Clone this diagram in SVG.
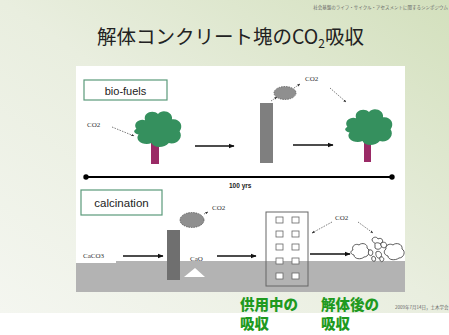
<svg xmlns="http://www.w3.org/2000/svg" width="449" height="335" viewBox="0 0 449 335">
  <defs>
    <linearGradient id="bg" x1="0" y1="1" x2="1" y2="0">
      <stop offset="0" stop-color="#f4f6f0"/>
      <stop offset="0.5" stop-color="#e9eedf"/>
      <stop offset="1" stop-color="#d3e0bd"/>
    </linearGradient>
    <marker id="arr" viewBox="0 0 10 10" refX="9" refY="5" markerWidth="6" markerHeight="6" orient="auto" markerUnits="userSpaceOnUse">
      <path d="M0,1 L10,5 L0,9 z" fill="#111"/>
    </marker>
    <marker id="arrs" viewBox="0 0 10 10" refX="9" refY="5" markerWidth="3" markerHeight="3" orient="auto" markerUnits="userSpaceOnUse">
      <path d="M0,1 L10,5 L0,9 z" fill="#333"/>
    </marker>
    <marker id="dot" viewBox="0 0 10 10" refX="5" refY="5" markerWidth="6" markerHeight="6" markerUnits="userSpaceOnUse">
      <circle cx="5" cy="5" r="4.5" fill="#000"/>
    </marker>
    <g id="treeShape">
      <path d="M-20,0 C-24,-6 -16,-10 -12,-8 C-14,-16 -4,-18 0,-14 C4,-19 14,-16 13,-9 C20,-10 24,-3 20,2 C24,8 17,15 10,13 C6,18 -4,18 -6,13 C-14,16 -22,10 -18,5 C-23,4 -23,1 -20,0 z"/>
    </g>
  </defs>
  <style>
    .lbl { font-family: "Liberation Sans", Arial, sans-serif; fill: #222; }
    .small { font-family: "Liberation Serif", "Times New Roman", serif; font-size: 7px; fill: #333; }
    .box { fill: #ffffff; stroke: #5a9a7a; stroke-width: 1.2; }
    .flow { stroke: #111; stroke-width: 1.5; fill: none; marker-end: url(#arr); }
    .dash { stroke: #444; stroke-width: 0.7; stroke-dasharray: 1.5 1.2; fill: none; marker-end: url(#arrs); }
    .canopy { fill: #35905e; }
    .trunk { fill: #9a2a66; }
    .smoke { fill: #8f8f8f; stroke: #555; stroke-width: 0.8; stroke-dasharray: 1.5 1; }
    .green { font-family: "Noto Sans CJK JP", sans-serif; font-weight: 900; font-size: 14.5px; fill: #1f9a1f; }
    .win { fill: #ffffff; stroke: #666; stroke-width: 0.8; }
    .rubble { fill: #ffffff; stroke: #333; stroke-width: 0.8; }
  </style>

  <!-- slide background -->
  <rect x="0" y="0" width="449" height="313" fill="url(#bg)"/>
  <rect x="0" y="313" width="449" height="22" fill="#ffffff"/>

  <!-- header texts -->
  <text x="448" y="9" text-anchor="end" font-family="'Noto Sans CJK JP', sans-serif" font-size="4.5" fill="#666">社会基盤のライフ・サイクル・アセスメントに関するシンポジウム</text>
  <text x="97" y="44" font-family="'Noto Sans CJK JP', sans-serif" font-size="19.5" fill="#222">解体コンクリート塊のCO<tspan font-size="12" dy="4">2</tspan><tspan dy="-4">吸収</tspan></text>

  <!-- content panel -->
  <rect x="76" y="66" width="329" height="226" fill="#ffffff"/>
  <!-- ground -->
  <rect x="76" y="261" width="329" height="31" fill="#b3b3b3"/>
  <rect x="76" y="248" width="40" height="15" fill="#ffffff"/>

  <!-- bio-fuels row -->
  <g id="biofuels-label">
    <rect class="box" x="84" y="80" width="83" height="20"/>
    <text class="lbl" x="125.5" y="94.5" font-size="11" text-anchor="middle">bio-fuels</text>
  </g>
  <g id="tree-left">
    <rect class="trunk" x="151" y="142" width="8" height="22"/>
    <use href="#treeShape" class="canopy" transform="translate(158,129) scale(1.08)"/>
  </g>
  <g id="stack-top">
    <rect x="260" y="103" width="13" height="60" fill="#7f7f7f"/>
    <ellipse class="smoke" cx="285" cy="93" rx="11" ry="6.5"/>
  </g>
  <g id="tree-right">
    <rect class="trunk" x="364" y="141" width="7" height="21"/>
    <use href="#treeShape" class="canopy" transform="translate(369,127) scale(1.08)"/>
  </g>
  <g id="timeline">
    <line x1="86" y1="177" x2="392" y2="177" stroke="#000" stroke-width="2.2" marker-start="url(#dot)" marker-end="url(#dot)"/>
    <text x="229" y="188" font-family="'Liberation Sans', Arial, sans-serif" font-size="6.5" font-weight="bold" fill="#222">100 yrs</text>
  </g>

  <!-- calcination row -->
  <g id="calcination-label">
    <rect class="box" x="81" y="190" width="81" height="25"/>
    <text class="lbl" x="121.5" y="207" font-size="11.5" text-anchor="middle">calcination</text>
  </g>
  <g id="kiln">
    <rect x="167" y="230" width="13" height="50" fill="#6f6f6f"/>
    <ellipse class="smoke" cx="192" cy="220" rx="12" ry="7.5"/>
    <polygon points="195,268 184,277 205,277" fill="#ffffff"/>
  </g>
  <g id="building">
    <rect x="266" y="212" width="42" height="74" fill="none" stroke="#666" stroke-width="1"/>
    <rect class="win" x="276" y="217" width="7" height="6"/>
    <rect class="win" x="292" y="217" width="7" height="6"/>
    <rect class="win" x="276" y="231" width="7" height="6"/>
    <rect class="win" x="292" y="231" width="7" height="6"/>
    <rect class="win" x="276" y="244" width="7" height="6"/>
    <rect class="win" x="292" y="244" width="7" height="6"/>
    <rect class="win" x="276" y="258" width="7" height="6"/>
    <rect class="win" x="292" y="258" width="7" height="6"/>
    <rect class="win" x="276" y="273" width="7" height="6"/>
    <rect class="win" x="292" y="273" width="7" height="6"/>
  </g>
  <g id="rubble">
    <path class="rubble" d="M353,250 C351,246 356,243 359,245 C362,242 368,244 367,248 C371,250 369,257 364,257 C361,260 354,259 354,255 C350,254 350,251 353,250 z"/>
    <path class="rubble" d="M386,249 C385,245 390,243 393,245 C396,242 403,244 402,249 C406,251 404,258 399,258 C395,261 388,260 388,256 C384,255 383,251 386,249 z"/>
    <path class="rubble" d="M372,240 C372,237 377,236 378,239 C381,237 384,240 382,243 C380,245 374,245 372,240 z"/>
    <path class="rubble" d="M375,245 C374,242 380,242 381,245 C383,248 378,251 375,248 z" fill="#555"/>
    <path class="rubble" d="M381,243 C384,241 388,243 386,247 C384,249 380,247 381,243 z"/>
    <path class="rubble" d="M369,250 C372,249 374,252 372,255 C370,257 367,254 369,250 z"/>
    <path class="rubble" d="M376,252 C379,250 383,253 381,257 C379,260 375,257 376,252 z"/>
    <path class="rubble" d="M372,257 C374,255 377,258 375,261 C373,262 371,260 372,257 z" fill="#444"/>
    <path class="rubble" d="M380,257 C383,256 385,259 383,261 C381,263 379,260 380,257 z"/>
  </g>

  <!-- labels -->
  <text class="small" x="87" y="127">CO2</text>
  <text class="small" x="305" y="81">CO2</text>
  <text class="small" x="212" y="210">CO2</text>
  <text class="small" x="335" y="220">CO2</text>
  <text class="small" x="83" y="258">CaCO3</text>
  <text class="small" x="190" y="261">CaO</text>

  <!-- connectors -->
  <g id="connectors">
    <line class="flow" x1="195" y1="146" x2="234" y2="146"/>
    <line class="flow" x1="293" y1="145" x2="333" y2="145"/>
    <line class="flow" x1="123" y1="256" x2="163" y2="256"/>
    <line class="flow" x1="217" y1="256" x2="256" y2="256"/>
    <line class="flow" x1="310" y1="254" x2="350" y2="254"/>
    <line class="dash" x1="112" y1="127" x2="134" y2="136"/>
    <line class="dash" x1="271" y1="101" x2="277" y2="97" marker-end="none"/>
    <line class="dash" x1="294" y1="88" x2="300" y2="84"/>
    <line class="dash" x1="330" y1="88" x2="346" y2="102"/>
    <line class="dash" x1="204" y1="214" x2="208" y2="212" marker-end="none"/>
    <line class="dash" x1="332" y1="222" x2="312" y2="233"/>
    <line class="dash" x1="358" y1="222" x2="373" y2="233"/>
  </g>

  <!-- absorption captions -->
  <text class="green" x="240" y="310">供用中の</text>
  <text class="green" x="240" y="329">吸収</text>
  <text class="green" x="321" y="310">解体後の</text>
  <text class="green" x="321" y="329">吸収</text>

  <text x="395" y="309" font-family="'Noto Sans CJK JP', sans-serif" font-size="4.5" fill="#666">2009年7月14日，土木学会</text>
</svg>
